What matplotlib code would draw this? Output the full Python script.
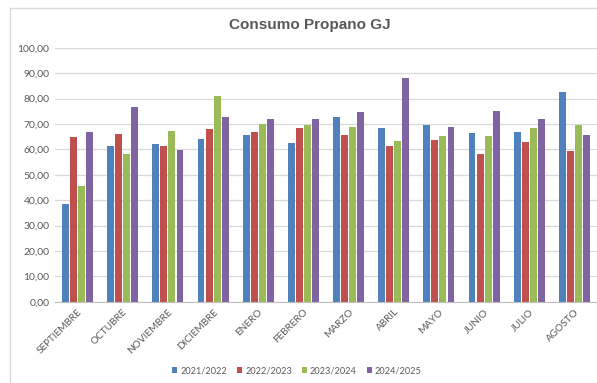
import numpy as np
import matplotlib
matplotlib.use('Agg')
import matplotlib.pyplot as plt
from matplotlib.patches import Rectangle

# monthly propane consumption (GJ) per season
months = ['SEPTIEMBRE', 'OCTUBRE', 'NOVIEMBRE', 'DICIEMBRE', 'ENERO', 'FEBRERO',
          'MARZO', 'ABRIL', 'MAYO', 'JUNIO', 'JULIO', 'AGOSTO']
seasons = ['2021/2022', '2022/2023', '2023/2024', '2024/2025']
s2122 = [38.3, 61.3, 62.0, 64.2, 65.5, 62.4, 72.6, 68.3, 69.6, 66.5, 66.9, 82.7]
s2223 = [65.0, 65.9, 61.4, 68.1, 66.8, 68.3, 65.5, 61.3, 63.8, 58.0, 62.8, 59.4]
s2324 = [45.7, 58.3, 67.1, 81.0, 69.8, 69.6, 68.8, 63.1, 65.4, 65.1, 68.4, 69.7]
s2425 = [66.9, 76.7, 59.7, 72.8, 71.8, 71.8, 74.6, 88.2, 68.7, 75.0, 71.9, 65.6]
colors = ['#4F81BD', '#C0504D', '#9BBB59', '#8064A2']

plt.rcParams['font.family'] = ['Lato', 'DejaVu Sans']

fig = plt.figure(figsize=(5.97, 3.83), dpi=100)
fig.patch.set_facecolor('white')

# chart border
fig.patches.append(Rectangle((10 / 597, -0.05), 1.0, 1 - 8 / 383 + 0.05,
                             transform=fig.transFigure, fill=False,
                             edgecolor='#D9D9D9', linewidth=1.0))

ax = fig.add_axes([55 / 597, 1 - 301.7 / 383, 542 / 597, (301.7 - 47.7) / 383])

x = np.arange(len(months))
slot = 0.178
for i, (vals, col, lab) in enumerate(zip([s2122, s2223, s2324, s2425], colors, seasons)):
    ax.bar(x + (i - 1.5) * slot, vals, width=slot * 0.86, color=col, label=lab, zorder=3)

ax.set_xlim(-0.5, len(months) - 0.5)
ax.set_ylim(0, 100)
ax.set_yticks(np.arange(0, 101, 10))
ax.set_yticklabels([f'{v:.2f}'.replace('.', ',') for v in np.arange(0, 101, 10)],
                   color='#595959', fontsize=7.5)
ax.set_xticks(x)
ax.set_xticklabels(months, rotation=45, ha='right', rotation_mode='anchor',
                   color='#595959', fontsize=7.2)
ax.tick_params(axis='both', length=0, pad=4)
ax.grid(axis='y', color='#D9D9D9', linewidth=0.9, zorder=0)
for side in ['top', 'right', 'left']:
    ax.spines[side].set_visible(False)
ax.spines['bottom'].set_color('#BFBFBF')

fig.text(310 / 597, 1 - 25 / 383, 'Consumo Propano GJ', ha='center', va='center',
         fontsize=11, fontweight='bold', color='#595959', family='Liberation Sans')

fig.legend(loc='center', bbox_to_anchor=(297 / 597, 1 - 371 / 383), ncol=4,
           frameon=False, fontsize=6.6, labelcolor='#595959',
           handlelength=0.55, handleheight=0.55, handletextpad=0.35,
           columnspacing=1.05)

fig.savefig('out.png', dpi=100)
